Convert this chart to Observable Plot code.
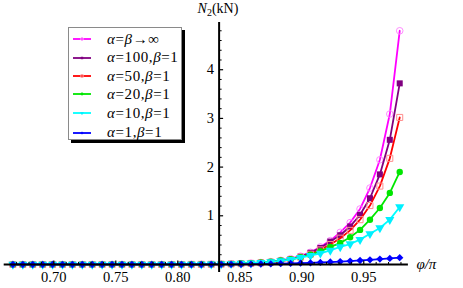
<!DOCTYPE html>
<html>
<head>
<meta charset="utf-8">
<script src="https://cdn.jsdelivr.net/npm/d3@7"></script>
<script src="https://cdn.jsdelivr.net/npm/@observablehq/plot@0.6"></script>
<style>
  html, body { margin: 0; padding: 0; background: #fff; }
  #wrap { position: relative; width: 463px; height: 288px; font-family: "Liberation Serif", "Times New Roman", serif; }
  #wrap > svg { position: absolute; left: 0; top: 0; }
  #legend { position: absolute; left: 68px; top: 27px; width: 114px; height: 113px; background: #fff;
            border: 1px solid #8a8a8a; box-shadow: 3px 3px 0 #000; box-sizing: border-box; }
  #legend .row { position: absolute; left: 0; height: 18px; display: flex; align-items: center; font-size: 15px; white-space: nowrap; }
  #legend .row svg { position: static; margin-left: 4px; flex: none; }
  #legend .row span { margin-left: 16px; letter-spacing: 0.6px; }
  #ylab { position: absolute; left: 218px; top: 1px; transform: translateX(-50%); font-size: 14px; white-space: nowrap; }
  #ylab sub { font-size: 10px; vertical-align: -3px; }
</style>
</head>
<body>
<div id="wrap"></div>
<script>
// ---- data ----
const phi = [0.667, 0.675, 0.683, 0.691, 0.699, 0.707, 0.715, 0.723, 0.731, 0.739,
             0.747, 0.755, 0.763, 0.771, 0.779, 0.787, 0.795, 0.803, 0.811, 0.819,
             0.827, 0.835, 0.843, 0.851, 0.859, 0.867, 0.875, 0.883, 0.891, 0.899,
             0.907, 0.915, 0.923, 0.931, 0.939, 0.947, 0.955, 0.963, 0.971, 0.979];
const nInf = [0, 0, 0, 0, 0, 0, 0, 0, 0, 0, 0, 0, 0, 0, 0, 0, 0, 0, 0.002, 0.003,
              0.005, 0.008, 0.012, 0.018, 0.027, 0.04, 0.058, 0.085, 0.12, 0.17,
              0.25, 0.36, 0.49, 0.66, 0.86, 1.14, 1.57, 2.15, 3.09, 4.80];
const n100 = [0, 0, 0, 0, 0, 0, 0, 0, 0, 0, 0, 0, 0, 0, 0, 0, 0, 0, 0.002, 0.003,
              0.004, 0.007, 0.011, 0.016, 0.024, 0.035, 0.05, 0.075, 0.11, 0.16,
              0.24, 0.34, 0.47, 0.60, 0.78, 1.02, 1.36, 1.85, 2.56, 3.72];
const n50 = [0, 0, 0, 0, 0, 0, 0, 0, 0, 0, 0, 0, 0, 0, 0, 0, 0, 0, 0.002, 0.003,
             0.004, 0.006, 0.01, 0.015, 0.022, 0.032, 0.047, 0.07, 0.10, 0.15,
             0.21, 0.30, 0.41, 0.54, 0.70, 0.92, 1.21, 1.61, 2.18, 3.02];
const n20 = [0, 0, 0, 0, 0, 0, 0, 0, 0, 0, 0, 0, 0, 0, 0, 0, 0, 0, 0.003, 0.004,
             0.006, 0.009, 0.013, 0.02, 0.028, 0.04, 0.055, 0.08, 0.11, 0.15,
             0.20, 0.27, 0.36, 0.44, 0.56, 0.71, 0.92, 1.16, 1.47, 1.90];
const n10 = [0, 0, 0, 0, 0, 0, 0, 0, 0, 0, 0, 0, 0, 0, 0, 0, 0, 0, 0.003, 0.004,
             0.006, 0.009, 0.013, 0.02, 0.028, 0.04, 0.055, 0.075, 0.10, 0.14,
             0.18, 0.23, 0.29, 0.36, 0.42, 0.51, 0.63, 0.75, 0.92, 1.18];
const n1 = [0, 0, 0, 0, 0, 0, 0, 0, 0, 0, 0, 0, 0, 0, 0, 0, 0, 0, 0, 0,
            0.001, 0.002, 0.003, 0.004, 0.006, 0.009, 0.012, 0.016, 0.021, 0.027,
            0.034, 0.042, 0.05, 0.06, 0.07, 0.082, 0.095, 0.11, 0.125, 0.14];

const seriesLabels = ["<i>α</i>=<i>β</i>→∞", "<i>α</i>=100,<i>β</i>=1", "<i>α</i>=50,<i>β</i>=1",
                      "<i>α</i>=20,<i>β</i>=1", "<i>α</i>=10,<i>β</i>=1", "<i>α</i>=1,<i>β</i>=1"];
const seriesValues = [nInf, n100, n50, n20, n10, n1];

const xMajor = [0.70, 0.75, 0.80, 0.85, 0.90, 0.95];
const xMinor = [0.67, 0.68, 0.69, 0.71, 0.72, 0.73, 0.74, 0.76, 0.77, 0.78, 0.79, 0.81, 0.82, 0.83,
                0.84, 0.86, 0.87, 0.88, 0.89, 0.91, 0.92, 0.93, 0.94, 0.96, 0.97, 0.98];
const yMajor = [1, 2, 3, 4];
const yMinor = [0.2, 0.4, 0.6, 0.8, 1.2, 1.4, 1.6, 1.8, 2.2, 2.4, 2.6, 2.8,
                3.2, 3.4, 3.6, 3.8, 4.2, 4.4, 4.6, 4.8];
const axisCross = 5 / 6;

// ---- styles ----
const styles = [
  {line: "#ff00ff", symbol: "circle", fill: "none", stroke: "#ff8cff", r: 3.3},
  {line: "#800080", symbol: "square", fill: "#800080", stroke: "none", r: 3.4},
  {line: "#ff0000", symbol: "square", fill: "none", stroke: "#ff8c8c", r: 3.4},
  {line: "#00e600", symbol: "circle", fill: "#00e600", stroke: "none", r: 3.2},
  {line: "#00ffff", symbol: "triangle", fill: "#00f0ff", stroke: "none", r: 3.4, rotate: 180},
  {line: "#0000ff", symbol: "diamond2", fill: "#0000ff", stroke: "none", r: 3.3}
];

const tickUp = {draw(ctx, size) { const L = Math.sqrt(size / Math.PI); ctx.moveTo(0, 0); ctx.lineTo(0, -L); }};
const tickRight = {draw(ctx, size) { const L = Math.sqrt(size / Math.PI); ctx.moveTo(0, 0); ctx.lineTo(L, 0); }};

const marks = [];
seriesValues.forEach((vals, k) => {
  const s = styles[k];
  const rows = phi.map((p, i) => ({phi: p, N: vals[i]}));
  marks.push(Plot.line(rows, {x: "phi", y: "N", stroke: s.line, strokeWidth: 1.8}));
  const dotOpts = {x: "phi", y: "N", symbol: s.symbol, fill: s.fill, stroke: s.stroke, r: s.r, strokeWidth: 1};
  if (s.rotate) dotOpts.rotate = s.rotate;
  marks.push(Plot.dot(rows, dotOpts));
});

marks.push(
  Plot.ruleY([0], {stroke: "black", strokeWidth: 2}),
  Plot.ruleX([axisCross], {stroke: "black", strokeWidth: 2}),
  Plot.dot(xMajor, {x: d => d, y: 0, symbol: tickUp, r: 4, stroke: "black", fill: "none", strokeWidth: 1.2}),
  Plot.dot(xMinor, {x: d => d, y: 0, symbol: tickUp, r: 2.5, stroke: "black", fill: "none", strokeWidth: 1}),
  Plot.dot(yMajor, {x: axisCross, y: d => d, symbol: tickRight, r: 4, stroke: "black", fill: "none", strokeWidth: 1.2}),
  Plot.dot(yMinor, {x: axisCross, y: d => d, symbol: tickRight, r: 2.5, stroke: "black", fill: "none", strokeWidth: 1}),
  Plot.text(xMajor, {x: d => d, y: 0, text: d => d.toFixed(2), dy: 13, fontSize: 14.5, fill: "black"}),
  Plot.text(yMajor, {x: axisCross, y: d => d, text: d => String(d), dx: -5, textAnchor: "end", fontSize: 14.5, fill: "black"}),
  Plot.text(["φ/π"], {x: 0.986, y: 0, text: d => d, dx: 8, textAnchor: "start", fontSize: 15, fontStyle: "italic", fill: "black"})
);

const chart = Plot.plot({
  width: 463,
  height: 288,
  marginLeft: 3.7,
  marginRight: 55.1,
  marginTop: 22,
  marginBottom: 16,
  x: {domain: [0.66, 0.986], axis: null},
  y: {domain: [-0.165, 4.97], axis: null},
  style: {background: "white", fontFamily: "'Liberation Serif', 'Times New Roman', serif", overflow: "visible"},
  marks
});

const wrap = document.getElementById("wrap");
wrap.appendChild(chart);

// y-axis label
const ylab = document.createElement("div");
ylab.id = "ylab";
ylab.innerHTML = "<i>N</i><sub>2</sub>(kN)";
wrap.appendChild(ylab);

// legend
const legend = document.createElement("div");
legend.id = "legend";
const rowTops = [2, 20.5, 39, 57.3, 76, 95.5];
seriesLabels.forEach((lab, k) => {
  const s = styles[k];
  const row = document.createElement("div");
  row.className = "row";
  row.style.top = rowTops[k] + "px";
  const sw = d3.create("svg").attr("width", 18).attr("height", 10);
  sw.append("line").attr("x1", 0).attr("x2", 18).attr("y1", 5).attr("y2", 5)
    .attr("stroke", s.line).attr("stroke-width", 1.8);
  const sym = {circle: d3.symbolCircle, square: d3.symbolSquare, triangle: d3.symbolTriangle, diamond2: d3.symbolDiamond2}[s.symbol];
  sw.append("path").attr("d", d3.symbol(sym, 6)())
    .attr("transform", `translate(9,5)${s.rotate ? " rotate(180)" : ""}`)
    .attr("fill", s.fill).attr("stroke", s.stroke);
  row.appendChild(sw.node());
  const span = document.createElement("span");
  span.innerHTML = lab;
  row.appendChild(span);
  legend.appendChild(row);
});
wrap.appendChild(legend);
</script>
</body>
</html>
